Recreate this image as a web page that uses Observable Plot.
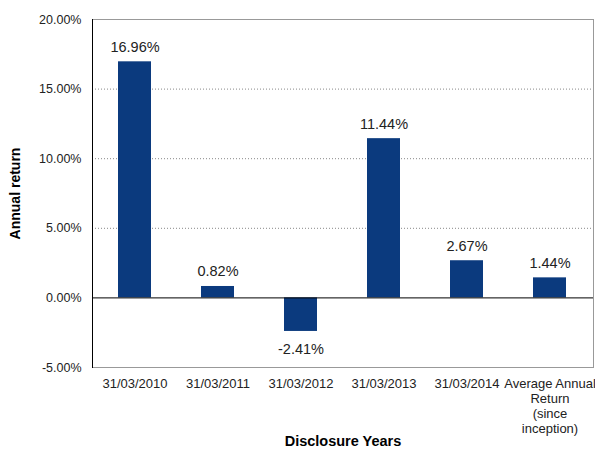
<!DOCTYPE html>
<html>
<head>
<meta charset="utf-8">
<script src="https://cdn.jsdelivr.net/npm/d3@7"></script>
<script src="https://cdn.jsdelivr.net/npm/@observablehq/plot@0.6"></script>
<style>
body { margin: 0; background: #fff; }
</style>
</head>
<body>
<div id="chart"></div>
<script>
const categories = ["31/03/2010", "31/03/2011", "31/03/2012", "31/03/2013", "31/03/2014", "Average Annual\nReturn\n(since\ninception)"];
const values = [16.96, 0.82, -2.41, 11.44, 2.67, 1.44];
const yTicks = [-5, 0, 5, 10, 15, 20];

const data = categories.map((c, i) => ({cat: c, v: values[i]}));
const font = "'Liberation Sans Narrow', 'Liberation Sans', Arial, sans-serif";

const chart = Plot.plot({
  width: 595,
  height: 455,
  marginLeft: 92,
  marginRight: 2,
  marginTop: 19,
  marginBottom: 88,
  style: {fontFamily: font, fontSize: "12px", color: "#222", background: "#fff"},
  x: {domain: categories, paddingInner: 0.6, paddingOuter: 0.3, label: null},
  y: {domain: [-5, 20], label: null},
  marks: [
    Plot.gridY(yTicks.filter(d => d !== 0 && d !== 20 && d !== -5), {stroke: "#888", strokeOpacity: 1, strokeDasharray: "1,2"}),
    Plot.frame({stroke: "#999"}),
    Plot.frame({anchor: "left", stroke: "#000"}),
    Plot.barY(data, {x: "cat", y: "v", fill: "#0B3A7E"}),
    Plot.ruleY([0], {stroke: "#000"}),
    Plot.text(data, {x: "cat", y: "v", text: d => d.v.toFixed(2) + "%", lineAnchor: "bottom", fontSize: 14.5, fill: "#222",
      filter: d => d.v >= 0, dy: -10}),
    Plot.text(data, {x: "cat", y: "v", text: d => d.v.toFixed(2) + "%", lineAnchor: "top", fontSize: 14.5, fill: "#222",
      filter: d => d.v < 0, dy: 12}),
    Plot.axisY(yTicks, {tickSize: 0, tickPadding: 11, tickFormat: d => d.toFixed(2) + "%", fontSize: 12.5, label: null}),
    Plot.axisX({tickSize: 0, tickPadding: 10, fontSize: 13, label: null, lineHeight: 1.15}),
    Plot.text(["Annual return"], {frameAnchor: "left", textAnchor: "middle", dx: -77, rotate: -90, fontWeight: "bold", fontSize: 14, fill: "#000"}),
    Plot.text(["Disclosure Years"], {frameAnchor: "bottom", dy: 78, fontWeight: "bold", fontSize: 14.5, fill: "#000"})
  ]
});
document.getElementById("chart").appendChild(chart);
</script>
</body>
</html>
